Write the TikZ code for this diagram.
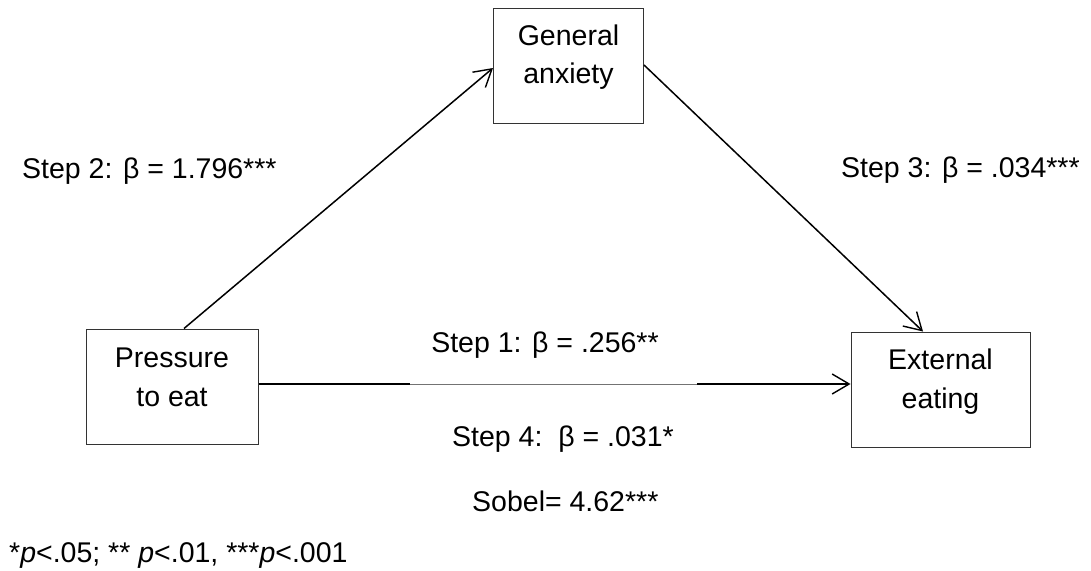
\documentclass[tikz,border=0pt]{standalone}
\usepackage{fontspec}
\setmainfont{Liberation Sans}
\usetikzlibrary{arrows.meta}
\begin{document}
\begin{tikzpicture}[x=1pt,y=-1pt,
  txt/.style={font=\fontsize{28.5}{34}\selectfont, inner sep=0pt},
  varbox/.style={draw=black!80, line width=1pt, fill=white, inner sep=0pt},
  conn/.style={line width=1.5pt, black},
  tip/.style={-{Straight Barb[length=17pt,width=20pt,line width=1.4pt]}},
  thin/.style={line width=0.9pt, black!55}]
\useasboundingbox (0,0) rectangle (1091,570);

% boxes
\node[varbox, minimum width=150pt, minimum height=115pt] (ga) at (568.5,65.5) {};
\node[varbox, minimum width=172pt, minimum height=115pt] (pe) at (172,386.5) {};
\node[varbox, minimum width=179pt, minimum height=115pt] (ee) at (940.5,389.5) {};

% box texts
\node[txt, anchor=base] (ga1) at (568.5,45) {General};
\node[txt, anchor=base] (ga2) at (568.5,83) {anxiety};
\node[txt, anchor=base] (pe1) at (172,367) {Pressure};
\node[txt, anchor=base] (pe2) at (172,406) {to eat};
\node[txt, anchor=base] (ee1) at (940.5,369) {External};
\node[txt, anchor=base] (ee2) at (940.5,408) {eating};

% connectors
\draw[conn, tip] ([xshift=12pt]pe.north) -- ([yshift=-2.5pt]ga.west);
\draw[conn, tip] ([yshift=0.5pt]ga.east) -- ([xshift=-17.5pt]ee.north);
\coordinate (h1) at (410,384);
\coordinate (h2) at (697,384);
\draw[conn] (pe.east |- h1) -- (h1);
\draw[thin] (h1) -- (h2);
\draw[conn, tip] (h2) -- (ee.west |- h2);

% labels
\node[txt, anchor=base west] (s2) at (22,178) {Step 2: β = 1.796***};
\node[txt, anchor=base west] (s3) at (841,177) {Step 3: β = .034***};
\node[txt, anchor=base] (s1) at (545,352) {Step 1: β = .256**};
\node[txt, anchor=base west] (s4) at (452,446) {Step 4:\ \ β = .031*};
\node[txt, anchor=base west] (sob) at (472,511) {Sobel= 4.62***};
\node[txt, anchor=base west] (fn) at (9,562) {*\textit{p}<.05; ** \textit{p}<.01, ***\textit{p}<.001};
\end{tikzpicture}
\end{document}
